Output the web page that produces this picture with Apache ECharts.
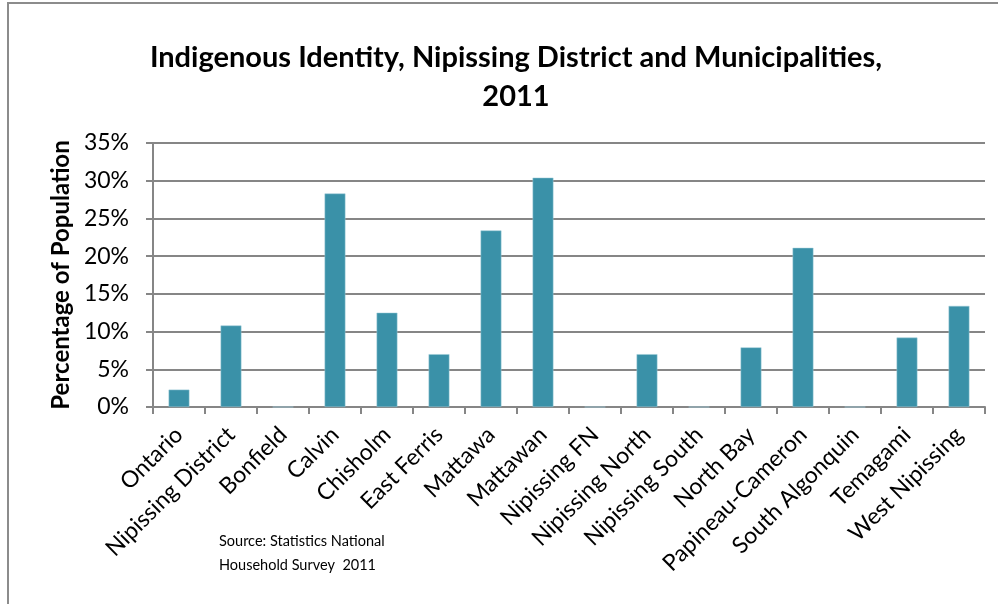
<!DOCTYPE html>
<html>
<head>
<meta charset="utf-8">
<script src="https://cdn.jsdelivr.net/npm/echarts@6/dist/echarts.min.js"></script>
<style>
  html, body { margin: 0; padding: 0; background: #fff; }
  #chart { width: 998px; height: 604px; }
</style>
</head>
<body>
<div id="chart"></div>
<script>
var categories = ['Ontario', 'Nipissing District', 'Bonfield', 'Calvin', 'Chisholm', 'East Ferris',
  'Mattawa', 'Mattawan', 'Nipissing FN', 'Nipissing North', 'Nipissing South', 'North Bay',
  'Papineau-Cameron', 'South Algonquin', 'Temagami', 'West Nipissing'];
var indigenousPct = [2.3, 10.8, 0, 28.3, 12.5, 7.0, 23.4, 30.4, 0, 7.0, 0, 7.9, 21.1, 0, 9.2, 13.4];
var yTicks = [0, 5, 10, 15, 20, 25, 30, 35];

var font = 'Lato, "Open Sans", sans-serif';
var myChart = echarts.init(document.getElementById('chart'));
var option = {
  backgroundColor: '#fff',
  animation: false,
  title: {
    text: 'Indigenous Identity, Nipissing District and Municipalities,\n2011',
    left: 511,
    top: 33,
    textAlign: 'center',
    textStyle: {
      fontFamily: font,
      fontWeight: 'bold',
      fontSize: 29,
      lineHeight: 39,
      color: '#000'
    }
  },
  grid: { left: 153, right: 13, top: 143, bottom: 197 },
  xAxis: {
    type: 'category',
    data: categories,
    axisLine: { lineStyle: { color: '#868686', width: 2 } },
    axisTick: { show: true, length: 7, lineStyle: { color: '#868686', width: 2 } },
    axisLabel: {
      rotate: 45,
      interval: 0,
      margin: 24,
      fontFamily: font,
      fontSize: 23,
      color: '#000'
    }
  },
  yAxis: {
    type: 'value',
    min: yTicks[0],
    max: yTicks[yTicks.length - 1],
    interval: 5,
    name: 'Percentage of Population',
    nameLocation: 'middle',
    nameGap: 79,
    nameTextStyle: { fontFamily: font, fontWeight: 'bold', fontSize: 24, color: '#000' },
    axisLine: { show: true, lineStyle: { color: '#868686', width: 2 } },
    axisTick: { show: true, length: 7, lineStyle: { color: '#868686', width: 2 } },
    splitLine: { lineStyle: { color: '#868686', width: 2 } },
    axisLabel: {
      margin: 24,
      fontFamily: font,
      fontSize: 23,
      color: '#000',
      formatter: function (v) { return v + '%'; }
    }
  },
  series: [{
    type: 'bar',
    data: indigenousPct,
    barWidth: '40%',
    itemStyle: { color: '#3a91a8', borderColor: '#9ccbd8', borderWidth: 0.5 }
  }],
  graphic: [
    {
      type: 'rect',
      shape: { x: 8, y: 3, width: 1200, height: 800 },
      style: { fill: 'none', stroke: '#8c8c8c', lineWidth: 2 },
      silent: true
    },
    {
      type: 'text',
      left: 219,
      top: 529,
      style: {
        text: 'Source: Statistics National\nHousehold Survey  2011',
        font: '14.5px ' + font,
        lineHeight: 24,
        fill: '#000'
      }
    }
  ]
};
myChart.setOption(option);
</script>
</body>
</html>
